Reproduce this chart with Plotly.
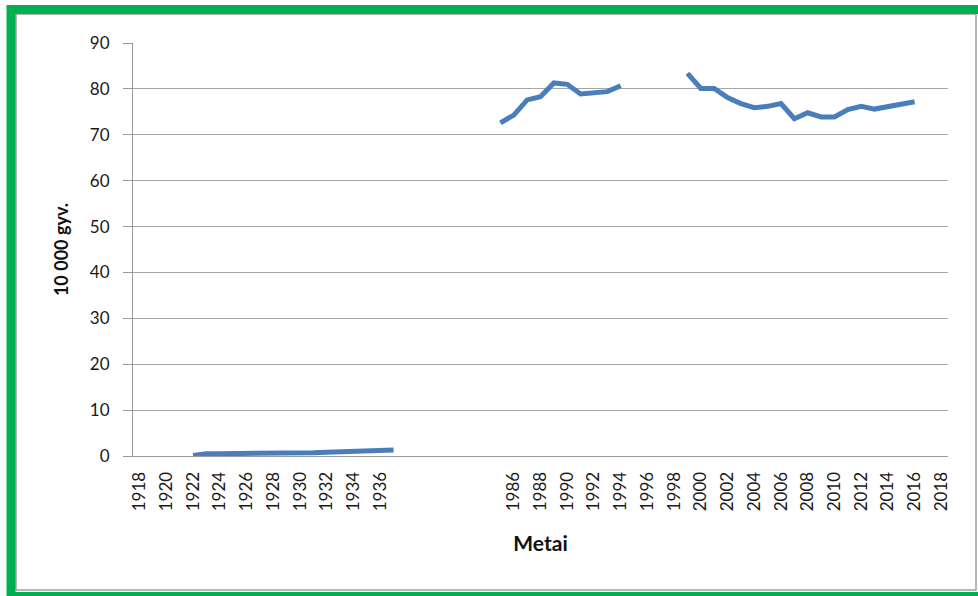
import plotly.graph_objects as go

# ---- data ----
years_early = list(range(1922, 1938))
values_early = [0.1, 0.5, 0.5, 0.5, 0.5, 0.5, 0.5, 0.6, 0.7, 0.7, 0.8, 0.9, 1.0, 1.2, 1.3, 1.3]

years_mid = list(range(1985, 1995))
values_mid = [72.6, 74.3, 77.6, 78.3, 81.3, 81.0, 78.9, 79.1, 79.4, 80.7]

years_late = list(range(1999, 2017))
values_late = [83.4, 80.1, 80.1, 78.1, 76.8, 75.9, 76.2, 76.8, 73.5, 74.8,
               73.9, 73.9, 75.5, 76.2, 75.6, 76.1, 76.7, 77.2]

tick_years = list(range(1918, 1937, 2)) + list(range(1986, 2019, 2))
tick_labels = [str(y) for y in tick_years]

y_ticks = list(range(0, 91, 10))


# category slot of a year on the (broken) category axis
def slot(y):
    return y - 1918 if y <= 1937 else y - 1958


xs, ys = [], []
for yrs, vals in [(years_early, values_early), (years_mid, values_mid), (years_late, values_late)]:
    xs += [slot(y) for y in yrs] + [None]
    ys += vals + [None]

fig = go.Figure()
fig.add_trace(go.Scatter(x=xs, y=ys, mode="lines", connectgaps=False,
                         line=dict(color="#4A7EBB", width=5), showlegend=False))

W, H = 978, 596
L, R, T, B = 133, 948, 43, 456


def px(x):
    return (x - L) / (R - L)


def py(y):
    return (B - y) / (B - T)


fig.update_layout(
    width=W, height=H,
    margin=dict(l=L, r=W - R, t=T, b=H - B),
    plot_bgcolor="white", paper_bgcolor="white",
    font=dict(family="Lato, 'Noto Sans', sans-serif", color="#1A1A1A"),
    xaxis=dict(
        range=[-0.5, 60.5],
        tickmode="array",
        tickvals=[slot(y) for y in tick_years],
        ticktext=tick_labels,
        tickangle=-90,
        tickfont=dict(size=17, color="#1A1A1A"),
        showgrid=False, zeroline=False,
        showline=True, linecolor="#9A9A9A", linewidth=1,
        ticks="", ticklabelstandoff=8,
        title=dict(text="<b>Metai</b>", font=dict(size=21, color="#111111"), standoff=26),
    ),
    yaxis=dict(
        range=[0, 90],
        tickmode="array", tickvals=y_ticks,
        tickfont=dict(size=17, color="#1A1A1A"),
        showgrid=True, gridcolor="#A6A6A6", gridwidth=1,
        zeroline=False,
        showline=True, linecolor="#9A9A9A", linewidth=1,
        ticks="outside", ticklen=9, tickcolor="#9A9A9A",
        ticklabelstandoff=10,
        title=dict(text="<b>10 000 gyv.</b>", font=dict(size=18, color="#111111"), standoff=16),
    ),
    shapes=[
        # inner gray frame
        dict(type="rect", xref="paper", yref="paper",
             x0=px(16), x1=px(976), y0=py(590), y1=py(14),
             line=dict(color="#A0A0A0", width=1.5), layer="below"),
        # green outer frame
        dict(type="rect", xref="paper", yref="paper",
             x0=px(11), x1=px(982.5), y0=py(596.5), y1=py(9.5),
             line=dict(color="#00B050", width=9), layer="above"),
    ],
)

fig.write_html("out.html",
               config={"displayModeBar": False},
               post_script="document.body.style.margin='0';document.body.style.overflow='hidden';")
